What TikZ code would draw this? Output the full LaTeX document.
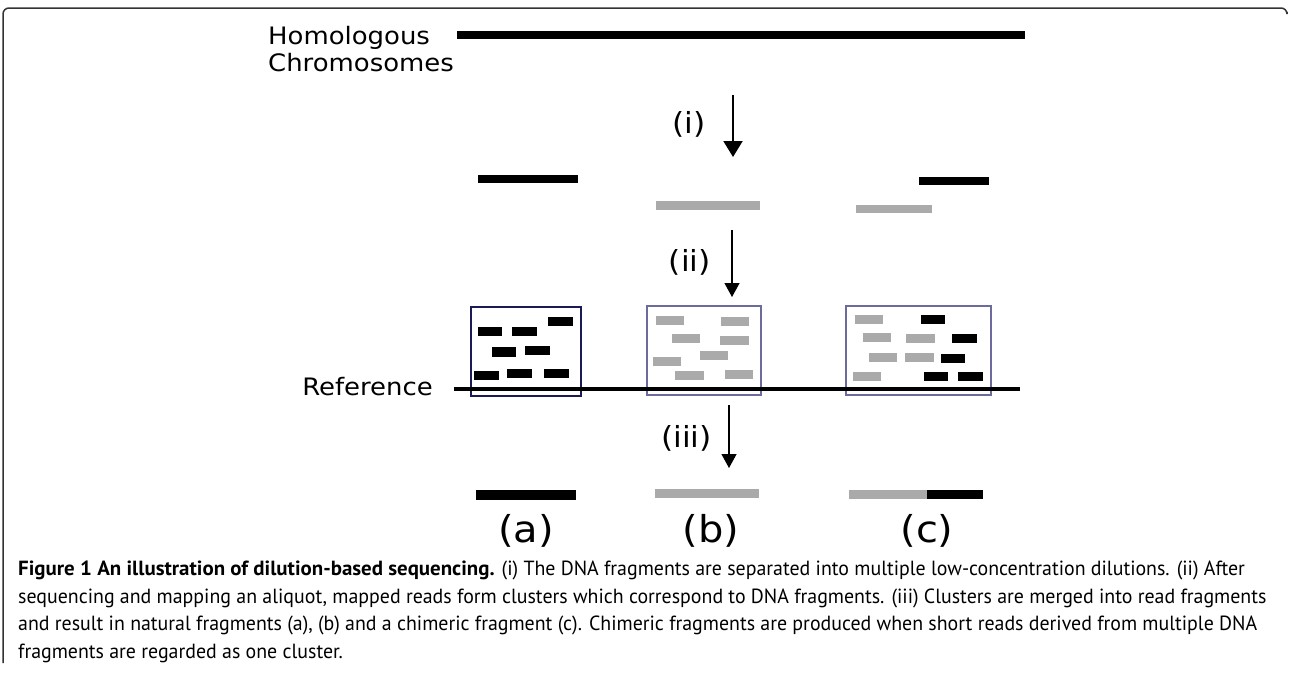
\documentclass[tikz,border=0pt]{standalone}
\usepackage{fontspec}
\usetikzlibrary{arrows.meta}
\newfontfamily\lblfont[FakeStretch=1.08]{DejaVu Sans}
\newfontfamily\capfont[FakeStretch=0.97]{PT Sans}
\newfontfamily\capbf[FakeStretch=1.02]{PT Sans}
\definecolor{readgray}{HTML}{AAAAAA}
\definecolor{navy}{HTML}{1A1A55}
\definecolor{boxblue}{HTML}{6B6B9E}
\definecolor{framegray}{HTML}{333333}
\tikzset{
  rd/.style={fill=black},
  rg/.style={fill=readgray},
  lbl/.style={font=\lblfont\fontsize{24}{27}\selectfont, inner sep=0pt},
  steplbl/.style={font=\lblfont\fontsize{29}{32}\selectfont, inner sep=0pt},
  caselbl/.style={font=\lblfont\fontsize{37}{40}\selectfont, inner sep=0pt},
  capline/.style={font=\capfont\fontsize{20.5}{23}\selectfont, inner sep=0pt, anchor=base west},
  flow/.style={-{Triangle[width=15pt,length=14pt]}, line width=1.3pt},
}
\begin{document}
\begin{tikzpicture}[x=1pt,y=-1pt]
\useasboundingbox (0,0) rectangle (1290,675);
\fill[white] (0,0) rectangle (1290,675);

% panel frame
\draw[framegray, line width=1.5pt, rounded corners=6pt]
  (1287,12) -- (1287,8) -- (3,8) -- (3,663);

% homologous chromosomes
\node[lbl, anchor=west, align=left] (hom) at (268,49) {Homologous\\Chromosomes};
\fill[rd] (457,30.5) rectangle (1025,38.5);

% step (i)
\coordinate (i1) at (733,95);
\coordinate (i2) at (733,157);
\draw[-{Triangle[width=19pt,length=16pt]}, line width=2pt] (i1) -- (i2);
\node[steplbl, anchor=east] (li) at (706,124) {(i)};

% diluted fragments
\fill[rd] (478,174.5) rectangle (578,183);
\fill[rg] (656,201) rectangle (760,209.5);
\fill[rd] (919,176.5) rectangle (989,185);
\fill[rg] (856,204.5) rectangle (932,213);

% step (ii)
\coordinate (ii1) at (732,230);
\coordinate (ii2) at (732,297);
\draw[flow] (ii1) -- (ii2);
\node[steplbl, anchor=east] (lii) at (711,262) {(ii)};

% clusters of mapped reads
\draw[navy, line width=2pt] (471,307) rectangle (581,396);
\fill[rd] (548,317) rectangle (573,326);
\fill[rd] (478,327) rectangle (502,336);
\fill[rd] (512,327) rectangle (537,336);
\fill[rd] (492,347) rectangle (516,357);
\fill[rd] (525,346) rectangle (550,355);
\fill[rd] (474,371) rectangle (499,380);
\fill[rd] (507,369) rectangle (532,378);
\fill[rd] (544,369) rectangle (569,378);

\draw[boxblue, line width=1.2pt] (647,306) rectangle (761,395);
\fill[rg] (656,316) rectangle (684,325);
\fill[rg] (721,317) rectangle (749,326);
\fill[rg] (672,334) rectangle (700,343);
\fill[rg] (720,336) rectangle (749,345);
\fill[rg] (700,351) rectangle (728,360);
\fill[rg] (653,357) rectangle (681,366);
\fill[rg] (675,371) rectangle (704,380);
\fill[rg] (725,370) rectangle (753,379);

\draw[boxblue, line width=1.2pt] (846,306) rectangle (991,395);
\fill[rg] (855,315) rectangle (883,324);
\fill[rg] (863,333) rectangle (891,342);
\fill[rg] (906,334) rectangle (935,343);
\fill[rg] (869,353) rectangle (897,362);
\fill[rg] (905,353) rectangle (934,362);
\fill[rg] (853,372) rectangle (881,381);
\fill[rd] (921,315) rectangle (945,324);
\fill[rd] (952,334) rectangle (977,343);
\fill[rd] (941,354) rectangle (965,363);
\fill[rd] (924,372) rectangle (948,381);
\fill[rd] (958,372) rectangle (983,381);

% reference genome
\node[lbl, anchor=east] (ref) at (433,387) {Reference};
\fill[rd] (454,387) rectangle (1020,391);

% step (iii)
\coordinate (iii1) at (729,405);
\coordinate (iii2) at (729,468);
\draw[flow] (iii1) -- (iii2);
\node[steplbl, anchor=east] (liii) at (712,438) {(iii)};

% merged read fragments
\fill[rd] (476,490) rectangle (576,499.5);
\fill[rg] (655,489) rectangle (759,498);
\fill[rg] (849,490) rectangle (927,499);
\fill[rd] (927,490) rectangle (983,499);
\node[caselbl] (ca) at (526,531) {(a)};
\node[caselbl] (cb) at (711,531) {(b)};
\node[caselbl] (cc) at (927,531) {(c)};

% caption
\node[capline] (cap1) at (18,575) {{\capbf\bfseries Figure 1 An illustration of dilution-based sequencing.} (i) The DNA fragments are separated into multiple low-concentration dilutions. (ii) After};
\node[capline] (cap2) at (18,603) {sequencing and mapping an aliquot, mapped reads form clusters which correspond to DNA fragments. (iii) Clusters are merged into read fragments};
\node[capline] (cap3) at (18,630) {and result in natural fragments (a), (b) and a chimeric fragment (c). Chimeric fragments are produced when short reads derived from multiple DNA};
\node[capline] (cap4) at (18,658) {fragments are regarded as one cluster.};
\end{tikzpicture}
\end{document}
